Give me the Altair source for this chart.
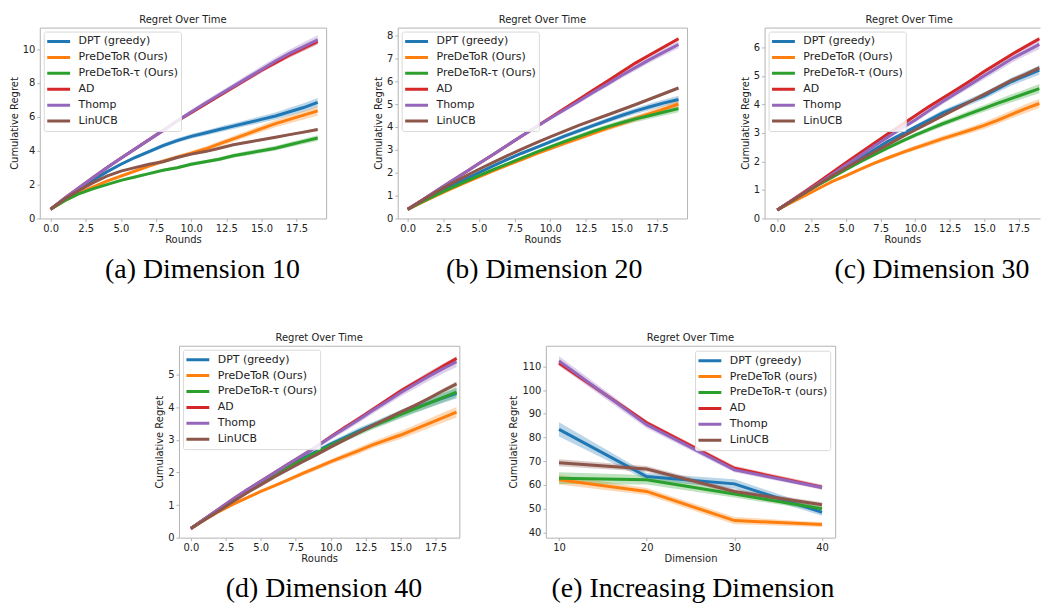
import altair as alt
import pandas as pd

ROUNDS = list(range(20))
NAMES_OURS = ["DPT (greedy)", "PreDeToR (Ours)", "PreDeToR-τ (Ours)", "AD", "Thomp", "LinUCB"]
NAMES_LOWER = ["DPT (greedy)", "PreDeToR (ours)", "PreDeToR-τ (ours)", "AD", "Thomp", "LinUCB"]
COLORS = ["#1f77b4", "#ff7f0e", "#2ca02c", "#d62728", "#9467bd", "#8c564b"]

# (a) Dimension 10
A_DPT = [0.55, 1.15, 1.7, 2.25, 2.75, 3.2, 3.6, 3.95, 4.3, 4.6, 4.85, 5.05, 5.25, 5.45, 5.65, 5.85, 6.05, 6.3, 6.55, 6.85]
A_PRE = [0.55, 1.05, 1.5, 1.85, 2.2, 2.5, 2.8, 3.1, 3.38, 3.62, 3.85, 4.1, 4.4, 4.7, 5.0, 5.3, 5.6, 5.85, 6.1, 6.35]
A_TAU = [0.55, 1.05, 1.45, 1.75, 2.0, 2.25, 2.45, 2.65, 2.85, 3.0, 3.2, 3.35, 3.5, 3.7, 3.85, 4.0, 4.15, 4.35, 4.55, 4.75]
A_AD = [0.55, 1.2, 1.8, 2.4, 3.0, 3.55, 4.1, 4.65, 5.2, 5.75, 6.25, 6.75, 7.25, 7.75, 8.25, 8.75, 9.2, 9.65, 10.05, 10.45]
A_THOMP = [0.55, 1.2, 1.8, 2.4, 3.0, 3.55, 4.1, 4.65, 5.2, 5.75, 6.28, 6.8, 7.3, 7.8, 8.3, 8.8, 9.3, 9.75, 10.15, 10.55]
A_LINUCB = [0.55, 1.15, 1.65, 2.1, 2.5, 2.8, 3.0, 3.2, 3.35, 3.6, 3.8, 3.95, 4.15, 4.35, 4.5, 4.65, 4.8, 4.95, 5.1, 5.25]
A_ERR_WIDE = [0.02, 0.03, 0.05, 0.06, 0.08, 0.09, 0.1, 0.11, 0.12, 0.13, 0.14, 0.15, 0.16, 0.17, 0.18, 0.2, 0.21, 0.23, 0.25, 0.27]
A_ERR_MID = [0.01, 0.02, 0.03, 0.04, 0.05, 0.06, 0.07, 0.07, 0.08, 0.09, 0.1, 0.1, 0.11, 0.12, 0.13, 0.13, 0.14, 0.15, 0.16, 0.17]
A_ERR_NARROW = [0.01, 0.01, 0.02, 0.02, 0.03, 0.03, 0.03, 0.04, 0.04, 0.05, 0.05, 0.05, 0.06, 0.06, 0.06, 0.07, 0.07, 0.07, 0.08, 0.08]

# (b) Dimension 20
B_DPT = [0.4, 0.73, 1.06, 1.38, 1.7, 2.0, 2.3, 2.58, 2.85, 3.1, 3.35, 3.6, 3.83, 4.06, 4.28, 4.5, 4.7, 4.88, 5.05, 5.2]
B_PRE = [0.4, 0.7, 1.0, 1.28, 1.56, 1.82, 2.08, 2.33, 2.57, 2.82, 3.05, 3.28, 3.5, 3.72, 3.94, 4.15, 4.37, 4.58, 4.79, 5.0]
B_TAU = [0.4, 0.72, 1.03, 1.32, 1.6, 1.87, 2.13, 2.39, 2.64, 2.89, 3.13, 3.36, 3.58, 3.8, 4.0, 4.18, 4.35, 4.5, 4.65, 4.8]
B_AD = [0.4, 0.8, 1.2, 1.6, 2.0, 2.4, 2.8, 3.2, 3.6, 4.0, 4.4, 4.8, 5.2, 5.6, 6.0, 6.4, 6.8, 7.15, 7.5, 7.85]
B_THOMP = [0.4, 0.8, 1.2, 1.6, 2.0, 2.4, 2.8, 3.2, 3.6, 4.0, 4.38, 4.75, 5.12, 5.5, 5.87, 6.25, 6.6, 6.95, 7.28, 7.6]
B_LINUCB = [0.4, 0.78, 1.15, 1.5, 1.83, 2.15, 2.45, 2.75, 3.03, 3.3, 3.56, 3.82, 4.07, 4.3, 4.52, 4.75, 4.98, 5.22, 5.46, 5.7]

# (c) Dimension 30
C_DPT = [0.3, 0.6, 0.9, 1.2, 1.5, 1.8, 2.1, 2.4, 2.7, 2.95, 3.2, 3.45, 3.7, 3.9, 4.1, 4.3, 4.55, 4.8, 5.0, 5.2]
C_PRE = [0.3, 0.55, 0.8, 1.05, 1.3, 1.5, 1.72, 1.93, 2.12, 2.3, 2.47, 2.63, 2.8, 2.95, 3.1, 3.26, 3.45, 3.65, 3.85, 4.03]
C_TAU = [0.3, 0.6, 0.9, 1.18, 1.45, 1.72, 1.98, 2.23, 2.47, 2.7, 2.92, 3.12, 3.32, 3.5, 3.68, 3.86, 4.04, 4.21, 4.38, 4.55]
C_AD = [0.3, 0.62, 0.95, 1.28, 1.62, 1.96, 2.3, 2.63, 2.96, 3.28, 3.6, 3.92, 4.22, 4.52, 4.83, 5.15, 5.45, 5.75, 6.03, 6.3]
C_THOMP = [0.3, 0.6, 0.92, 1.23, 1.55, 1.88, 2.2, 2.53, 2.85, 3.15, 3.45, 3.78, 4.1, 4.4, 4.7, 5.0, 5.3, 5.6, 5.85, 6.1]
C_LINUCB = [0.3, 0.6, 0.9, 1.2, 1.5, 1.78, 2.05, 2.32, 2.58, 2.85, 3.1, 3.35, 3.6, 3.85, 4.1, 4.35, 4.6, 4.85, 5.05, 5.28]

# (d) Dimension 40
D_DPT = [0.28, 0.57, 0.86, 1.15, 1.43, 1.7, 1.95, 2.2, 2.43, 2.65, 2.87, 3.07, 3.27, 3.45, 3.62, 3.8, 3.97, 4.13, 4.28, 4.43]
D_PRE = [0.28, 0.55, 0.8, 1.02, 1.22, 1.42, 1.6, 1.78, 1.97, 2.15, 2.33, 2.5, 2.67, 2.85, 3.0, 3.15, 3.32, 3.5, 3.68, 3.85]
D_TAU = [0.28, 0.57, 0.86, 1.15, 1.43, 1.7, 1.95, 2.18, 2.4, 2.62, 2.83, 3.03, 3.23, 3.42, 3.6, 3.78, 3.95, 4.12, 4.3, 4.47]
D_AD = [0.28, 0.58, 0.88, 1.18, 1.46, 1.73, 2.0, 2.27, 2.53, 2.8, 3.1, 3.38, 3.65, 3.93, 4.22, 4.5, 4.75, 5.0, 5.25, 5.5]
D_THOMP = [0.28, 0.58, 0.88, 1.18, 1.46, 1.73, 2.0, 2.27, 2.53, 2.8, 3.08, 3.35, 3.62, 3.9, 4.17, 4.45, 4.7, 4.95, 5.18, 5.4]
D_LINUCB = [0.28, 0.55, 0.82, 1.1, 1.37, 1.62, 1.87, 2.1, 2.33, 2.55, 2.78, 3.0, 3.22, 3.44, 3.65, 3.85, 4.05, 4.27, 4.5, 4.72]

# shared band half-widths for (b)-(d)
ERR_WIDE = [0.01, 0.02, 0.03, 0.03, 0.04, 0.05, 0.05, 0.06, 0.07, 0.07, 0.08, 0.09, 0.1, 0.1, 0.11, 0.12, 0.13, 0.14, 0.15, 0.16]
ERR_NARROW = [0.01, 0.01, 0.01, 0.02, 0.02, 0.02, 0.03, 0.03, 0.03, 0.04, 0.04, 0.04, 0.05, 0.05, 0.05, 0.06, 0.06, 0.06, 0.07, 0.07]

# (e) Increasing Dimension
E_DIMS = [10, 20, 30, 40]
E_DPT = [83.4, 63.5, 60.4, 48.4]
E_PRE = [62.1, 57.2, 44.9, 43.2]
E_TAU = [62.8, 62.1, 56.1, 49.9]
E_AD = [111.4, 86.2, 67.0, 59.0]
E_THOMP = [112.3, 85.4, 66.3, 58.9]
E_LINUCB = [69.3, 66.7, 57.2, 51.6]
E_DPT_ERR = [3.0, 1.5, 2.0, 1.5]
E_PRE_ERR = [2.0, 1.5, 1.5, 1.0]
E_TAU_ERR = [2.5, 2.0, 1.5, 1.0]
E_AD_ERR = [1.0, 1.0, 1.0, 1.0]
E_THOMP_ERR = [2.0, 1.5, 1.0, 1.0]
E_LINUCB_ERR = [1.5, 1.2, 1.0, 1.0]

ROUND_TICKS = [0, 2.5, 5, 7.5, 10, 12.5, 15, 17.5]
FONT = "DejaVu Sans"
FRAME = "#b3b3b3"


def make_df(xs, names, series, errs):
    rows = []
    for name, ys, es in zip(names, series, errs):
        for x, y, e in zip(xs, ys, es):
            rows.append({"x": x, "series": name, "y": y, "lo": y - e, "hi": y + e})
    return pd.DataFrame(rows)


def panel(df, names, xdom, ydom, xticks, yticks, xfmt, xtitle, w, h,
          leg_orient="top-left", leg_offset=4, title_dx=0, open_right=False):
    cs = alt.Scale(domain=names, range=COLORS)
    xs = alt.Scale(domain=xdom, nice=False, zero=False)
    ys = alt.Scale(domain=ydom, nice=False, zero=False)
    y_axis = alt.Axis(values=yticks, title="Cumulative Regret", domain=open_right,
                      domainColor=FRAME)
    x_axis = alt.Axis(values=xticks, format=xfmt, title=xtitle, domain=open_right,
                      domainColor=FRAME, labelFlush=False)
    if open_right:
        top_axis = alt.Axis(orient="top", labels=False, ticks=False, title=None,
                            domain=True, domainColor=FRAME)
    else:
        top_axis = x_axis
    legend = alt.Legend(title=None, orient=leg_orient, offset=leg_offset, padding=2,
                        fillColor="rgba(255,255,255,0.85)", strokeColor="#d9d9d9", cornerRadius=2,
                        symbolType="stroke", symbolSize=529, symbolStrokeWidth=3,
                        symbolOpacity=1, clipHeight=16, rowPadding=0, labelOffset=7,
                        labelFontSize=11, labelFont=FONT, labelColor="#222")
    band = alt.Chart(df).mark_area(opacity=0.3, clip=True).encode(
        x=alt.X("x:Q", scale=xs, axis=top_axis),
        y=alt.Y("lo:Q", scale=ys, axis=y_axis, stack=None),
        y2="hi:Q",
        color=alt.Color("series:N", scale=cs, legend=legend),
    )
    line = alt.Chart(df).mark_line(strokeWidth=3, clip=True).encode(
        x=alt.X("x:Q", scale=xs, axis=x_axis),
        y=alt.Y("y:Q", scale=ys, axis=y_axis),
        color=alt.Color("series:N", scale=cs, legend=legend),
    )
    title = alt.TitleParams("Regret Over Time", offset=3, anchor="middle", dx=title_dx,
                            font=FONT, fontSize=10, fontWeight="normal", color="#222")
    if open_right:
        layer = alt.LayerChart(layer=[band, line], view=alt.ViewBackground(stroke="transparent"))
        layer = layer.resolve_axis(x="independent")
    else:
        layer = alt.layer(band, line)
    return layer.properties(width=w, height=h, title=title)


def captioned(chart, text, dx):
    return alt.vconcat(chart, spacing=0, title=alt.TitleParams(
        text, orient="bottom", anchor="middle", font="Liberation Serif", fontSize=28,
        fontWeight="normal", color="black", offset=11, dx=dx)
    ).resolve_scale(color="independent").resolve_legend(color="independent")


def spacer(w):
    return alt.Chart(pd.DataFrame({"v": [0]})).mark_point(opacity=0).properties(
        width=w, height=10, view=alt.ViewBackground(stroke="transparent"))


df_a = make_df(ROUNDS, NAMES_OURS, [A_DPT, A_PRE, A_TAU, A_AD, A_THOMP, A_LINUCB],
               [A_ERR_WIDE, A_ERR_WIDE, A_ERR_MID, A_ERR_MID, A_ERR_WIDE, A_ERR_NARROW])
df_b = make_df(ROUNDS, NAMES_OURS, [B_DPT, B_PRE, B_TAU, B_AD, B_THOMP, B_LINUCB],
               [ERR_WIDE, ERR_WIDE, ERR_WIDE, ERR_NARROW, ERR_WIDE, ERR_NARROW])
df_c = make_df(ROUNDS, NAMES_OURS, [C_DPT, C_PRE, C_TAU, C_AD, C_THOMP, C_LINUCB],
               [ERR_WIDE, ERR_WIDE, ERR_WIDE, ERR_NARROW, ERR_WIDE, ERR_NARROW])
df_d = make_df(ROUNDS, NAMES_OURS, [D_DPT, D_PRE, D_TAU, D_AD, D_THOMP, D_LINUCB],
               [ERR_WIDE, ERR_WIDE, ERR_WIDE, ERR_NARROW, ERR_WIDE, ERR_NARROW])
df_e = make_df(E_DIMS, NAMES_LOWER, [E_DPT, E_PRE, E_TAU, E_AD, E_THOMP, E_LINUCB],
               [E_DPT_ERR, E_PRE_ERR, E_TAU_ERR, E_AD_ERR, E_THOMP_ERR, E_LINUCB_ERR])

pa = panel(df_a, NAMES_OURS, [-0.77, 19.6], [0, 11.27], ROUND_TICKS, [0, 2, 4, 6, 8, 10], ".1f", "Rounds", 288, 192)
pb = panel(df_b, NAMES_OURS, [-0.7, 19.6], [0, 8.34], ROUND_TICKS, list(range(9)), ".1f", "Rounds", 291, 192)
pc = panel(df_c, NAMES_OURS, [-0.92, 19.05], [0, 6.69], ROUND_TICKS, list(range(7)), ".1f", "Rounds", 277, 192,
           title_dx=7, open_right=True)
pd_ = panel(df_d, NAMES_OURS, [-0.85, 19.2], [0, 5.89], ROUND_TICKS, list(range(6)), ".1f", "Rounds", 282, 193)
pe = panel(df_e, NAMES_LOWER, [8.5, 41.5], [37.7, 118.7], E_DIMS, list(range(40, 111, 10)), "d", "Dimension", 291, 193,
           leg_orient="top-right", leg_offset=5)

row1 = alt.hconcat(
    captioned(pa, "(a) Dimension 10", 35), spacer(44),
    captioned(pb, "(b) Dimension 20", 14), spacer(50),
    captioned(pc, "(c) Dimension 30", 42),
    spacing=0,
).resolve_scale(color="independent").resolve_legend(color="independent")

row2 = alt.hconcat(
    spacer(114),
    captioned(pd_, "(d) Dimension 40", 17), spacer(46),
    captioned(pe, "(e) Increasing Dimension", 21),
    spacing=0,
).resolve_scale(color="independent").resolve_legend(color="independent")

chart = alt.vconcat(row1, row2, spacing=48).resolve_scale(
    color="independent").resolve_legend(color="independent").properties(
    padding={"left": 8, "top": 12, "right": 0, "bottom": 0},
    background="white",
).configure_view(
    stroke=FRAME, strokeWidth=1
).configure_axis(
    labelFont=FONT, titleFont=FONT, labelFontSize=10, titleFontSize=10,
    titleFontWeight="normal", labelColor="#222", titleColor="#222",
    tickColor=FRAME, tickSize=3, grid=False, labelPadding=2,
).configure_axisY(titlePadding=3).configure_axisX(titlePadding=1)

chart.save("out.html", embed_options={"renderer": "svg", "actions": False})
